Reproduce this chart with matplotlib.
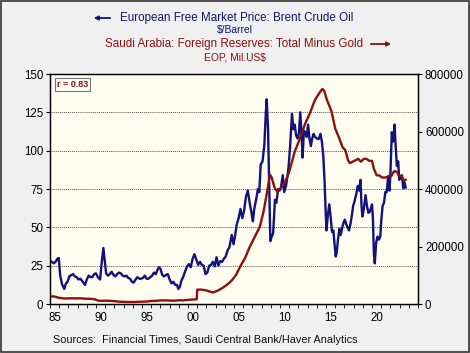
import numpy as np
import matplotlib
matplotlib.use("Agg")
import matplotlib.pyplot as plt
from matplotlib.patches import Rectangle

plt.rcParams['font.family'] = ['Liberation Sans', 'DejaVu Sans']

# Brent, $/barrel (left axis)
oil_t = [1985.0, 1985.2, 1985.4, 1985.6, 1985.8, 1985.95, 1986.1, 1986.3, 1986.55, 1986.7,
         1986.9, 1987.1, 1987.3, 1987.5, 1987.7, 1987.9, 1988.1, 1988.3, 1988.5, 1988.8,
         1989.0, 1989.2, 1989.4, 1989.6, 1989.8, 1990.0, 1990.2, 1990.45, 1990.6, 1990.8,
         1990.95, 1991.1, 1991.3, 1991.5, 1991.7, 1991.9, 1992.1, 1992.3, 1992.5, 1992.7,
         1992.9, 1993.1, 1993.3, 1993.5, 1993.7, 1993.9, 1994.1, 1994.3, 1994.5, 1994.7,
         1994.9, 1995.1, 1995.3, 1995.5, 1995.7, 1995.9, 1996.1, 1996.3, 1996.5, 1996.7,
         1996.85, 1997.0, 1997.2, 1997.4, 1997.6, 1997.8, 1998.0, 1998.2, 1998.4, 1998.6,
         1998.8, 1998.95, 1999.1, 1999.3, 1999.5, 1999.7, 1999.9, 2000.1, 2000.3, 2000.5,
         2000.7, 2000.9, 2001.1, 2001.3, 2001.5, 2001.7, 2001.9, 2002.1, 2002.3, 2002.5,
         2002.7, 2002.9, 2003.1, 2003.3, 2003.5, 2003.7, 2003.9, 2004.1, 2004.3, 2004.5,
         2004.75, 2004.95, 2005.1, 2005.3, 2005.5, 2005.7, 2005.9, 2006.1, 2006.3, 2006.5,
         2006.7, 2006.9, 2007.05, 2007.2, 2007.4, 2007.6, 2007.75, 2007.9, 2008.1, 2008.3,
         2008.45, 2008.55, 2008.7, 2008.85, 2008.95, 2009.1, 2009.25, 2009.45, 2009.6, 2009.8,
         2009.95, 2010.1, 2010.3, 2010.45, 2010.65, 2010.85, 2010.95, 2011.1, 2011.3, 2011.45,
         2011.6, 2011.75, 2011.9, 2012.05, 2012.2, 2012.35, 2012.45, 2012.6, 2012.75, 2012.9,
         2013.05, 2013.2, 2013.35, 2013.5, 2013.65, 2013.8, 2014.0, 2014.2, 2014.4, 2014.55,
         2014.7, 2014.85, 2014.95, 2015.05, 2015.2, 2015.35, 2015.5, 2015.65, 2015.8, 2015.95,
         2016.05, 2016.15, 2016.3, 2016.45, 2016.6, 2016.75, 2016.9, 2017.05, 2017.2, 2017.35,
         2017.5, 2017.65, 2017.8, 2017.95, 2018.1, 2018.3, 2018.45, 2018.6, 2018.75, 2018.85,
         2018.95, 2019.1, 2019.3, 2019.45, 2019.6, 2019.75, 2019.9, 2020.0, 2020.1, 2020.2,
         2020.3, 2020.45, 2020.6, 2020.75, 2020.9, 2021.0, 2021.15, 2021.3, 2021.45, 2021.6,
         2021.75, 2021.9, 2022.0, 2022.15, 2022.3, 2022.45, 2022.55, 2022.7, 2022.85, 2022.95,
         2023.1, 2023.25, 2023.4, 2023.55, 2023.65]
oil_v = [28, 27.5, 26.5, 27.5, 29.5, 30, 19, 13, 9.8, 13,
         14.5, 18, 18.8, 19.5, 18, 17.5, 16, 16.5, 15, 12.4,
         16, 18.5, 17.6, 17.5, 19.5, 20, 17.5, 16, 26, 36.5,
         28, 20, 18.5, 19.5, 21, 19, 18, 19.5, 20.5, 20,
         18.5, 18, 18.5, 17, 16.5, 14.5, 14, 16, 17.5, 16.5,
         16.5, 17, 18.5, 16.5, 16.5, 17.5, 18.5, 20.5, 19.5, 22.5,
         24, 23, 19, 18, 19, 19.5, 16, 13.5, 14.5, 12.5,
         12.5, 9.8, 11, 15.5, 18, 21.5, 24.5, 26, 24, 29.5,
         32.5, 29, 25.5, 27.5, 25.5, 25, 19.5, 20.5, 25, 25.5,
         27.5, 24.5, 30.5, 25, 28, 27.5, 29.5, 31, 35, 37,
         45, 39, 44, 52, 56, 62, 56, 61, 70, 74,
         66, 59.5, 54, 62, 68, 75, 73, 91, 93, 104,
         124, 133.5, 114, 72, 41, 44, 46, 68, 66, 75,
         74, 76, 84, 73, 77, 85, 91, 103, 124, 114,
         117, 110, 108, 111, 125, 110, 95.5, 113, 112, 109,
         117, 108, 103, 108, 111, 109, 108, 107.5, 111, 106,
         97, 79, 62, 48, 58, 65, 57, 47, 48, 38,
         31, 33, 42, 49, 45, 49.5, 53, 55, 52, 50,
         48, 52, 57.5, 64, 67, 72, 77, 74, 81, 65,
         57, 61.5, 71, 64, 59.5, 60, 63, 65, 56, 33,
         26.5, 40, 44, 42, 44, 54, 64, 66, 73, 73,
         83, 74, 85, 112, 106, 117, 105, 90, 93, 81,
         82, 84, 75.5, 79, 76]

# Saudi foreign reserves minus gold, mil. US$ (right axis)
res_t = [1985.0, 1985.3, 1985.6, 1985.9, 1986.3, 1986.8, 1987.3, 1987.8, 1988.3, 1988.8,
         1989.3, 1989.8, 1990.2, 1990.6, 1991.0, 1991.5, 1992.0, 1992.5, 1993.0, 1993.5,
         1994.0, 1994.5, 1995.0, 1995.5, 1996.0, 1996.5, 1997.0, 1997.5, 1998.0, 1998.5,
         1999.0, 1999.5, 2000.0, 2000.5, 2000.95, 2001.0, 2001.5, 2002.0, 2002.7, 2003.2,
         2003.7, 2004.2, 2004.7, 2005.2, 2005.7, 2006.2, 2006.7, 2007.2, 2007.8, 2008.2,
         2008.6, 2008.9, 2009.1, 2009.4, 2009.7, 2010.0, 2010.5, 2011.0, 2011.6, 2012.1,
         2012.7, 2013.2, 2013.8, 2014.3, 2014.6, 2014.8, 2015.1, 2015.6, 2016.0, 2016.4,
         2016.8, 2017.1, 2017.4, 2017.6, 2017.9, 2018.2, 2018.5, 2018.8, 2019.1, 2019.4,
         2019.7, 2020.0, 2020.2, 2020.5, 2020.8, 2021.1, 2021.5, 2021.8, 2022.1, 2022.4,
         2022.7, 2022.9, 2023.2, 2023.5, 2023.65]
res_v = [25000, 27000, 25000, 22000, 20000, 19000, 20000, 19500, 20000, 18500,
         18000, 17000, 12000, 11000, 11500, 11000, 10000, 8000, 7500, 7000,
         7000, 7500, 8000, 8500, 10500, 11000, 12500, 12500, 12000, 11500,
         13000, 12500, 14500, 15500, 16500, 50000, 50000, 47000, 40000, 46000,
         55000, 66000, 80000, 100000, 132000, 160000, 198000, 230000, 268000, 320000,
         390000, 450000, 440000, 405000, 390000, 400000, 420000, 460000, 530000, 570000,
         625000, 660000, 710000, 735000, 748000, 742000, 710000, 670000, 610000, 580000,
         545000, 535000, 500000, 490000, 495000, 500000, 505000, 495000, 505000, 505000,
         498000, 498000, 470000, 448000, 447000, 440000, 440000, 445000, 445000, 462000,
         460000, 447000, 445000, 428000, 432000]

year_ticks = list(range(1985, 2025, 5))
year_labels = ['85', '90', '95', '00', '05', '10', '15', '20']

blue = '#12127a'
red = '#8b1010'

fig = plt.figure(figsize=(4.7, 3.53), dpi=100, facecolor='#f0f0f0')
fig.patches.append(Rectangle((0.002, 0.003), 0.996, 0.994, transform=fig.transFigure,
                             fill=False, edgecolor='#333333', linewidth=1.2))

ax = fig.add_axes([0.1064, 0.1388, 0.7830, 0.6515])
ax.set_facecolor('#fffcf0')
ax.plot(oil_t, oil_v, color=blue, lw=1.7, zorder=3)
ax.set_xlim(1985, 2025)
ax.set_ylim(0, 150)
ax.set_yticks([0, 25, 50, 75, 100, 125, 150])
ax.yaxis.grid(True, linestyle=(0, (1, 1)), color='#555555', lw=0.7)

ax.set_xticks([y + 0.5 for y in year_ticks])
ax.set_xticklabels(year_labels)
ax.set_xticks(range(1985, 2026), minor=True)
ax.tick_params(axis='x', which='major', length=0, pad=6, labelsize=8.3)
ax.tick_params(axis='x', which='minor', length=3, direction='out')
ax.tick_params(axis='y', length=3, labelsize=8.3, pad=2)

ax2 = ax.twinx()
ax2.plot(res_t, res_v, color=red, lw=1.7, zorder=2)
ax2.set_ylim(0, 800000)
ax2.set_yticks([0, 200000, 400000, 600000, 800000])
ax2.set_yticklabels(['0', '200000', '400000', '600000', '800000'])
ax2.tick_params(axis='y', length=3, labelsize=8.3, pad=2)

for a in (ax, ax2):
    for s in a.spines.values():
        s.set_color('black')
        s.set_linewidth(0.9)

ax.text(0.018, 0.975, 'r = 0.83', transform=ax.transAxes, fontsize=6.5, color='#8b1030',
        fontweight='bold', va='top', ha='left',
        bbox=dict(boxstyle='square,pad=0.2', facecolor='#fffcf0', edgecolor='#777777', lw=0.8))

# header
fig.text(120 / 470, 1 - 18 / 353, 'European Free Market Price: Brent Crude Oil', color=blue,
         fontsize=8.4, ha='left', va='center')
fig.text(235 / 470, 1 - 30 / 353, '$/Barrel', color=blue, fontsize=7.4, ha='center', va='center')
fig.text(363 / 470, 1 - 44 / 353, 'Saudi Arabia: Foreign Reserves: Total Minus Gold', color=red,
         fontsize=8.4, ha='right', va='center')
fig.text(235 / 470, 1 - 57 / 353, 'EOP, Mil.US$', color=red, fontsize=7.4, ha='center', va='center')
ax.annotate('', xy=(91 / 470, 1 - 18 / 353), xytext=(113 / 470, 1 - 18 / 353),
            xycoords='figure fraction', annotation_clip=False,
            arrowprops=dict(arrowstyle='-|>', color=blue, lw=1.3, mutation_scale=6))
ax.annotate('', xy=(394 / 470, 1 - 44 / 353), xytext=(368 / 470, 1 - 44 / 353),
            xycoords='figure fraction', annotation_clip=False,
            arrowprops=dict(arrowstyle='-|>', color=red, lw=1.3, mutation_scale=6))

fig.text(53 / 470, 1 - 340 / 353, 'Sources:  Financial Times, Saudi Central Bank/Haver Analytics',
         fontsize=7.8, ha='left', va='center', color='#111111')

fig.savefig('out.png', dpi=100, facecolor=fig.get_facecolor())
